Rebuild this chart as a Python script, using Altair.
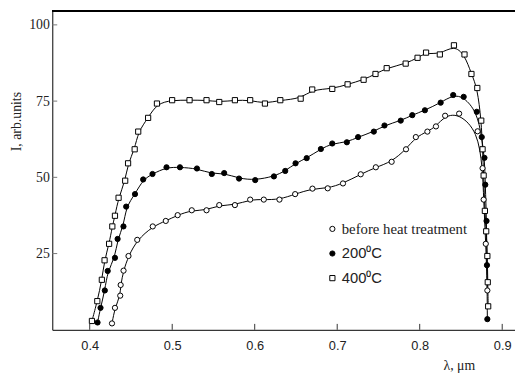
import altair as alt
import pandas as pd

series_names = ["before heat treatment", "200⁰C", "400⁰C"]

x_before = [0.427, 0.4306, 0.437, 0.4375, 0.441, 0.447, 0.4576, 0.4764, 0.4922, 0.5066,
            0.5237, 0.5416, 0.557, 0.576, 0.5945, 0.611, 0.630, 0.649, 0.670, 0.6885,
            0.707, 0.7285, 0.7468, 0.766, 0.7834, 0.7953, 0.8093, 0.8197, 0.8308, 0.8478,
            0.8702, 0.8762, 0.8775, 0.8801, 0.882]
y_before = [2.1, 7.2, 11.2, 14.7, 19.4, 24.2, 29.5, 33.9, 35.7, 37.6,
            39.2, 39.2, 40.9, 40.9, 42.7, 42.7, 42.7, 44.5, 46.3, 46.4,
            48.0, 51.0, 53.3, 55.1, 59.2, 63.2, 65.0, 66.7, 70.2, 70.9,
            65.1, 53.0, 42.7, 28.2, 12.9]

x_200 = [0.4095, 0.4131, 0.4183, 0.4218, 0.4306, 0.4338, 0.4409, 0.4442, 0.4549, 0.4648,
         0.4761, 0.4931, 0.5094, 0.53, 0.548, 0.563, 0.581, 0.6006, 0.6233, 0.637,
         0.6495, 0.663, 0.6802, 0.694, 0.7117, 0.7253, 0.7444, 0.7573, 0.777, 0.791,
         0.8063, 0.8254, 0.8406, 0.8533, 0.8692, 0.8752, 0.8785, 0.8795, 0.881, 0.8815, 0.882]
y_200 = [2.4, 7.2, 12.9, 19.3, 23.6, 29.8, 33.9, 40.4, 44.5, 49.3,
         51.1, 53.3, 53.3, 52.9, 51.1, 51.4, 49.6, 49.1, 50.3, 52.1,
         54.6, 56.3, 59.3, 61.1, 61.5, 63.2, 65.0, 67.0, 68.6, 70.4,
         72.0, 74.5, 77.0, 76.4, 71.5, 63.2, 56.4, 47.6, 35.7, 21.2, 3.5]

x_400 = [0.4027, 0.4092, 0.4147, 0.418, 0.4235, 0.4274, 0.4306, 0.435, 0.443, 0.4465,
         0.4545, 0.4588, 0.4708, 0.4815, 0.4999, 0.521, 0.5416, 0.557, 0.576, 0.5945,
         0.6124, 0.631, 0.6557, 0.6697, 0.694, 0.7126, 0.732, 0.7464, 0.76, 0.783,
         0.7974, 0.8077, 0.8244, 0.8415, 0.8543, 0.8627, 0.8698, 0.8746, 0.8762, 0.8775,
         0.879, 0.8806, 0.882, 0.8825, 0.883]
y_400 = [2.9, 9.4, 16.4, 22.8, 28.2, 33.9, 37.4, 43.3, 48.9, 54.6,
         59.2, 65.0, 69.5, 74.2, 75.3, 75.3, 75.3, 74.7, 75.3, 75.3,
         74.2, 75.3, 75.8, 78.8, 79.0, 80.5, 82.0, 83.9, 85.8, 87.3,
         89.2, 90.9, 90.3, 93.3, 90.3, 83.9, 79.3, 68.6, 59.2, 50.6,
         39.0, 32.3, 24.2, 15.6, 7.7]

x_ticks = [0.4, 0.5, 0.6, 0.7, 0.8, 0.9]
y_ticks = [25, 50, 75, 100]

rows = []
for name, xs, ys in zip(series_names, [x_before, x_200, x_400], [y_before, y_200, y_400]):
    for i, (xv, yv) in enumerate(zip(xs, ys)):
        rows.append({"series": name, "x": xv, "y": yv, "idx": i})
df = pd.DataFrame(rows)
xt_df = pd.DataFrame({"x": x_ticks})
yt_df = pd.DataFrame({"y": y_ticks})

xscale = alt.Scale(domain=[0.35465, 0.91551], nice=False, zero=False)
yscale = alt.Scale(domain=[0, 104.6], nice=False, zero=False)

x_axis = alt.Axis(
    values=x_ticks, format=".1f", title="λ, μm", grid=False, ticks=False,
    domainColor="black",
    labelPadding=10, labelFont="Liberation Sans", labelFontSize=13, labelColor="#222",
    labelFlush=False,
    titleFont="Liberation Serif", titleFontSize=14, titleFontWeight="normal",
    titleX=413, titleY=40, titleAnchor=None,
    titleAlign="center", titleBaseline="alphabetic", titleColor="#222")
y_axis = alt.Axis(
    values=y_ticks, title="I, arb.units", grid=False, ticks=False,
    domainColor="black",
    labelPadding=3, labelFont="Liberation Serif", labelFontSize=14, labelColor="#222",
    labelFlush=False,
    titleFont="Liberation Serif", titleFontSize=14, titleFontWeight="normal",
    titleX=-36, titleY=112, titleAngle=270, titleAlign="center",
    titleBaseline="middle", titleColor="#222")

x_enc = alt.X("x:Q", scale=xscale, axis=x_axis)
y_enc = alt.Y("y:Q", scale=yscale, axis=y_axis)

lines = alt.Chart(df).mark_line(color="black", strokeWidth=1, interpolate="basis").encode(
    x=x_enc, y=y_enc, detail="series:N", order="idx:Q")

points = alt.Chart(df).mark_point(filled=True, strokeWidth=1, opacity=1, size=28).encode(
    x=x_enc, y=y_enc,
    shape=alt.Shape("series:N", scale=alt.Scale(domain=series_names, range=["circle", "circle", "square"]),
                    legend=alt.Legend(title=None)),
    fill=alt.Fill("series:N", scale=alt.Scale(domain=series_names, range=["white", "black", "white"]),
                  legend=alt.Legend(title=None)),
    stroke=alt.Stroke("series:N", scale=alt.Scale(domain=series_names, range=["black", "black", "black"]),
                      legend=alt.Legend(title=None)),
)

xticks = alt.Chart(xt_df).mark_rule(color="#333", strokeWidth=1).encode(
    x=x_enc, y=alt.value(324), y2=alt.value(318))
yticks = alt.Chart(yt_df).mark_rule(color="#777", strokeWidth=1).encode(
    y=y_enc, x=alt.value(0), x2=alt.value(5))

border = alt.Chart(df).mark_rule(color="black", strokeWidth=1).encode(
    x=alt.value(0), x2=alt.value(470), y=alt.value(0))

chart = alt.layer(lines, points, xticks, yticks, border).properties(
    width=470, height=324,
    autosize=alt.AutoSizeParams(type="none"),
    padding={"left": 45, "top": 0, "right": 0, "bottom": 42},
).configure_view(stroke=None).configure_legend(
    orient="none", legendX=277, legendY=214,
    labelFont={"expr": "datum.label == 'before heat treatment' ? 'Liberation Serif' : 'Liberation Sans'"},
    labelFontSize=15, labelColor="#222",
    symbolSize=28, symbolStrokeColor="black", symbolStrokeWidth=1,
    rowPadding=9, labelOffset=2, padding=0,
)

chart.save("out.html", embed_options={"renderer": "svg", "actions": False})
